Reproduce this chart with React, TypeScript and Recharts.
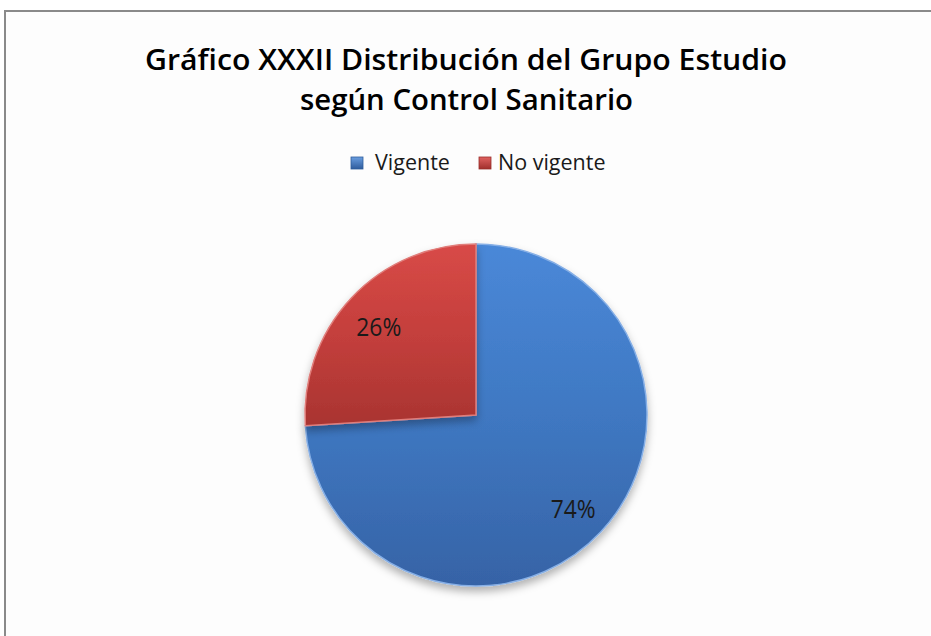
import React from "react";
import { PieChart, Pie, Cell } from "recharts";

const titleLines = ["Gráfico XXXII Distribución del Grupo Estudio", "según Control Sanitario"];
const categories = ["Vigente", "No vigente"];
const values = [74, 26];
const percentLabels = ["74%", "26%"];
const gradientIds = ["gradBlue", "gradRed"];

const data = categories.map((name, i) => ({ name, value: values[i], label: percentLabels[i] }));

const W = 931;
const H = 636;
const FONT = "'Open Sans', 'Noto Sans', sans-serif";

const RADIAN = Math.PI / 180;

const renderLabel = (props: any) => {
  const { cx, cy, midAngle, outerRadius, index } = props;
  const r = outerRadius * 0.78;
  const x = cx + r * Math.cos(-midAngle * RADIAN);
  const y = cy + r * Math.sin(-midAngle * RADIAN);
  return (
    <text
      x={x}
      y={y + 2}
      textAnchor="middle"
      dominantBaseline="central"
      fill="#1a1a1a"
      fontFamily={FONT}
      fontSize={26}
      textLength={45}
      lengthAdjust="spacingAndGlyphs"
    >
      {data[index].label}
    </text>
  );
};

const legendLayout = [
  { sq: 351, tx: 375 },
  { sq: 479, tx: 498 },
];

const LegendBlock = () => (
  <svg width={W} height={44} style={{ position: "absolute", left: 0, top: 148 }}>
    <defs>
      <linearGradient id="lgBlue" x1="0" y1="0" x2="0" y2="1">
        <stop offset="0" stopColor="#6a9ee0" />
        <stop offset="1" stopColor="#2f5c9c" />
      </linearGradient>
      <linearGradient id="lgRed" x1="0" y1="0" x2="0" y2="1">
        <stop offset="0" stopColor="#e06260" />
        <stop offset="1" stopColor="#a02f2c" />
      </linearGradient>
    </defs>
    {categories.map((c, i) => (
      <g key={c}>
        <rect x={legendLayout[i].sq} y={9} width={12} height={12} fill={i === 0 ? "url(#lgBlue)" : "url(#lgRed)"} stroke={i === 0 ? "#2f5c9c" : "#9a2d2a"} strokeWidth={0.8} />
        <text x={legendLayout[i].tx} y={22} fontFamily={FONT} fontSize={21.5} fill="#1a1a1a">
          {c}
        </text>
      </g>
    ))}
  </svg>
);

export default function App() {
  return (
    <div style={{ position: "absolute", left: 0, top: 0, width: W, height: H, background: "#ffffff", overflow: "hidden" }}>
      <div
        style={{
          position: "absolute",
          left: 4,
          top: 10,
          width: W,
          height: H,
          borderLeft: "2px solid #8a8a8a",
          borderTop: "2px solid #8a8a8a",
          background: "#fdfdfd",
        }}
      />
      <svg width={W} height={130} style={{ position: "absolute", left: 0, top: 0 }}>
        <text x={466} y={70} textAnchor="middle" fontFamily={FONT} fontWeight={600} fontSize={29} fill="#000" textLength={642} lengthAdjust="spacingAndGlyphs">
          {titleLines[0]}
        </text>
        <text x={466.5} y={110} textAnchor="middle" fontFamily={FONT} fontWeight={600} fontSize={29} fill="#000" textLength={333} lengthAdjust="spacingAndGlyphs">
          {titleLines[1]}
        </text>
      </svg>
      <LegendBlock />
      <div style={{ position: "absolute", left: 0, top: 0 }}>
        <PieChart width={W} height={H} margin={{ top: 0, right: 0, bottom: 0, left: 0 }}>
          <defs>
            <linearGradient id="gradBlue" x1="0" y1="0" x2="0" y2="1">
              <stop offset="0" stopColor="#4a88d8" />
              <stop offset="0.5" stopColor="#3f78c2" />
              <stop offset="1" stopColor="#3663a6" />
            </linearGradient>
            <linearGradient id="gradRed" x1="0" y1="0" x2="0" y2="1">
              <stop offset="0" stopColor="#d84a47" />
              <stop offset="0.5" stopColor="#c43f3c" />
              <stop offset="1" stopColor="#a93431" />
            </linearGradient>
            <filter id="pieShadow" x="-20%" y="-20%" width="140%" height="140%">
              <feDropShadow dx="0" dy="5" stdDeviation="4" floodColor="#000" floodOpacity="0.3" />
            </filter>
          </defs>
          <Pie
            data={data}
            dataKey="value"
            nameKey="name"
            cx={476}
            cy={415}
            outerRadius={171}
            startAngle={90}
            endAngle={-270}
            label={renderLabel}
            labelLine={false}
            isAnimationActive={false}
            strokeWidth={1.5}
          >
            {data.map((d, i) => (
              <Cell
                key={d.name}
                fill={`url(#${gradientIds[i]})`}
                stroke={i === 0 ? "#86afe6" : "#e07d7a"}
                filter="url(#pieShadow)"
              />
            ))}
          </Pie>
        </PieChart>
      </div>
    </div>
  );
}
